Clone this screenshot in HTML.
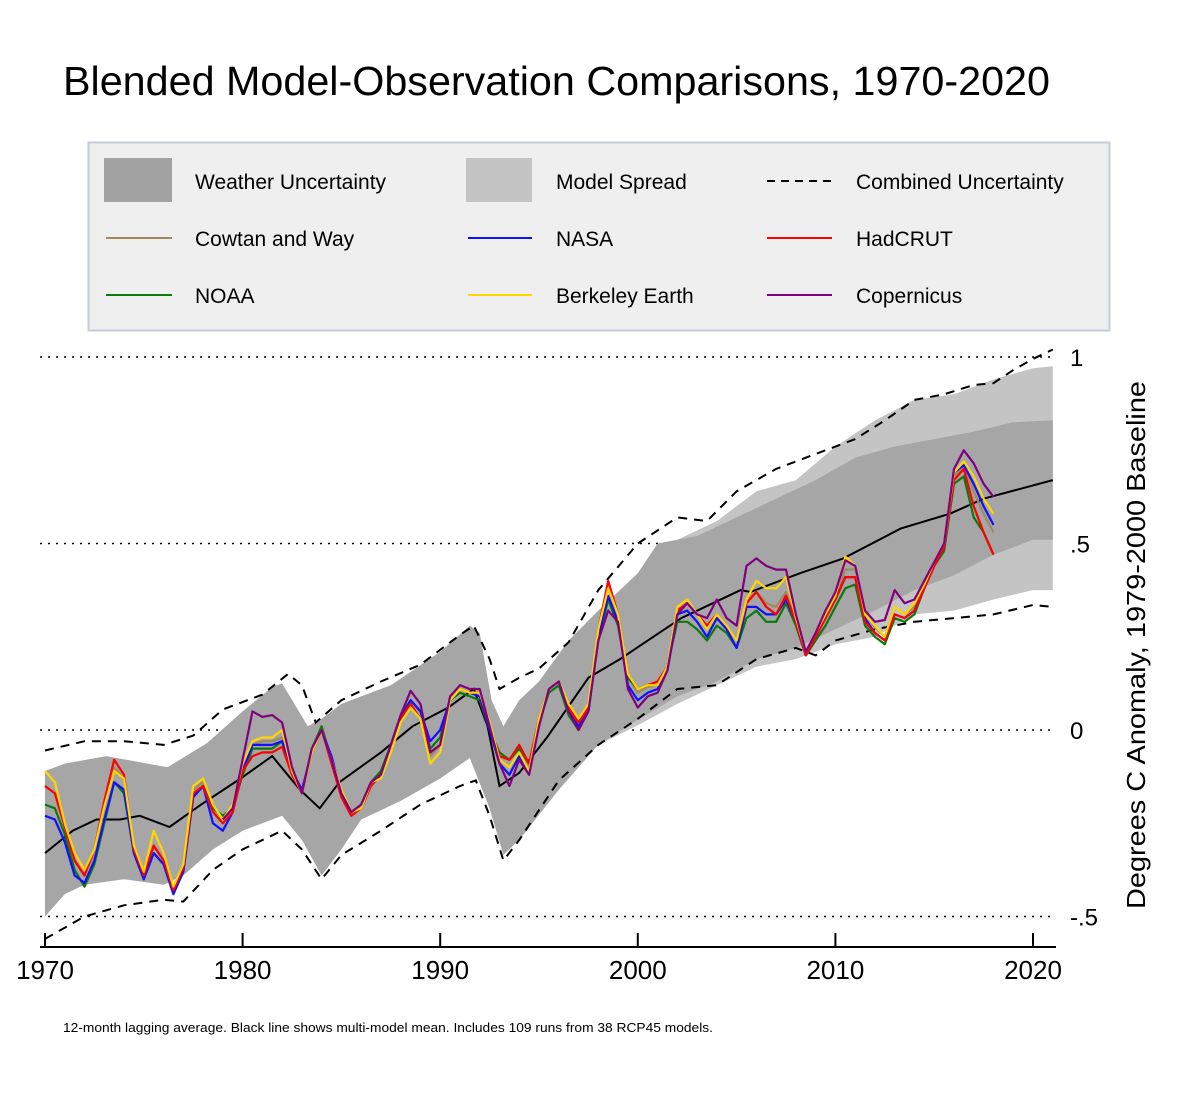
<!DOCTYPE html>
<html><head><meta charset="utf-8">
<style>
html,body{margin:0;padding:0;background:#fff;}
body{width:1200px;height:1100px;overflow:hidden;font-family:"Liberation Sans",Arial,sans-serif;}
svg text{font-family:"Liberation Sans",Arial,sans-serif;}
</style></head>
<body>
<svg id="chart" width="1200" height="1100" viewBox="0 0 1200 1100" xmlns="http://www.w3.org/2000/svg">
<rect x="0" y="0" width="1200" height="1100" fill="#fff"/>
<text x="63" y="95" font-size="41" textLength="987" lengthAdjust="spacingAndGlyphs" fill="#000">Blended Model-Observation Comparisons, 1970-2020</text>
<g>
<rect x="88.5" y="142.5" width="1021" height="188" fill="#efefef" stroke="#c5cdd8" stroke-width="2"/>
<rect x="104" y="158" width="68" height="44" fill="#a2a2a2"/>
<text x="195" y="189" font-size="21">Weather Uncertainty</text>
<rect x="466" y="158" width="66" height="44" fill="#c4c4c4"/>
<text x="556" y="189" font-size="21">Model Spread</text>
<line x1="767" y1="181" x2="832" y2="181" stroke="#000" stroke-width="2" stroke-dasharray="8,6"/>
<text x="856" y="189" font-size="21">Combined Uncertainty</text>
<line x1="106" y1="238" x2="172" y2="238" stroke="#a08a60" stroke-width="2"/>
<text x="195" y="246" font-size="21">Cowtan and Way</text>
<line x1="468" y1="238" x2="532" y2="238" stroke="#1010ff" stroke-width="2"/>
<text x="556" y="246" font-size="21">NASA</text>
<line x1="767" y1="238" x2="832" y2="238" stroke="#ff0000" stroke-width="2"/>
<text x="856" y="246" font-size="21">HadCRUT</text>
<line x1="106" y1="295" x2="172" y2="295" stroke="#0a7a0a" stroke-width="2"/>
<text x="195" y="303" font-size="21">NOAA</text>
<line x1="468" y1="295" x2="532" y2="295" stroke="#ffd700" stroke-width="2"/>
<text x="556" y="303" font-size="21">Berkeley Earth</text>
<line x1="767" y1="295" x2="832" y2="295" stroke="#800080" stroke-width="2"/>
<text x="856" y="303" font-size="21">Copernicus</text>
</g>
<g id="plot"></g>
<text transform="translate(1145,645) rotate(-90)" text-anchor="middle" font-size="26" textLength="528" lengthAdjust="spacingAndGlyphs">Degrees C Anomaly, 1979-2000 Baseline</text>
<text x="63" y="1032" font-size="13" textLength="650" lengthAdjust="spacingAndGlyphs">12-month lagging average. Black line shows multi-model mean. Includes 109 runs from 38 RCP45 models.</text>
</svg>
<script>
const xTicks=[1970,1980,1990,2000,2010,2020];
const yTicks=[1,0.5,0,-0.5];
const yTickLabels=["1",".5","0","-.5"];

const meanYears=[1970,1971.4,1972.6,1973.8,1974.8,1976.3,1977.9,1979.9,1981.5,1982.9,1983.9,1984.9,1987,1988.6,1990.4,1991.7,1992.4,1993,1994,1995.4,1997.5,1999.1,2002.2,2003.8,2005.2,2005.7,2008.2,2010.4,2013.3,2015.8,2017.5,2021];
const meanVals=[-0.33,-0.27,-0.24,-0.24,-0.23,-0.26,-0.2,-0.13,-0.07,-0.16,-0.21,-0.14,-0.06,0.01,0.06,0.11,0.01,-0.15,-0.115,-0.02,0.14,0.19,0.30,0.34,0.375,0.37,0.42,0.46,0.54,0.58,0.62,0.67];

const wxYears=[1970,1971,1973.1,1976.2,1978.2,1980,1981.5,1982,1983.3,1984,1985,1987.5,1990,1991.5,1992,1992.6,1993.2,1994,1995,1996.5,1998,2000,2001,2003,2005,2007,2009,2011,2013,2015,2017,2019,2021];
const wxUpper=[-0.11,-0.09,-0.07,-0.10,-0.035,0.05,0.115,0.125,0.01,0.03,0.07,0.12,0.21,0.28,0.26,0.08,0.01,0.08,0.13,0.24,0.32,0.42,0.50,0.52,0.57,0.62,0.67,0.73,0.76,0.78,0.80,0.825,0.83];
const wxLowYears=[1970,1971,1972,1974,1976,1977,1978.5,1980,1982,1983,1984,1985,1986,1988,1990,1991.5,1992.5,1993.2,1994,1996,1998,2000,2002,2004,2006,2008,2010,2012,2014,2016,2018,2020,2021];
const wxLower=[-0.5,-0.44,-0.415,-0.40,-0.415,-0.39,-0.32,-0.27,-0.23,-0.295,-0.39,-0.32,-0.24,-0.19,-0.13,-0.075,-0.21,-0.335,-0.295,-0.16,-0.04,0.027,0.09,0.13,0.19,0.22,0.27,0.32,0.375,0.415,0.47,0.51,0.51];

const msYears=[1998,2000,2002,2004,2006,2008,2010,2012,2014,2016,2018,2020,2021];
const msUpper=[0.32,0.42,0.51,0.56,0.64,0.67,0.76,0.83,0.885,0.90,0.94,0.97,0.975];
const msLower=[-0.04,0.013,0.07,0.12,0.17,0.19,0.23,0.25,0.31,0.32,0.35,0.375,0.375];

const cuUpYears=[1970,1972,1974,1976,1977.5,1979,1981,1982.3,1983,1983.7,1985,1987,1989,1991,1991.7,1992.5,1993,1994,1995,1996.5,1998,2000,2002,2003.5,2005,2007,2009,2011,2012.5,2014,2015.5,2017,2018,2019,2020,2021];
const cuUpper=[-0.055,-0.03,-0.03,-0.04,-0.015,0.055,0.095,0.15,0.12,0.02,0.08,0.13,0.175,0.255,0.28,0.19,0.11,0.14,0.165,0.235,0.375,0.50,0.57,0.56,0.64,0.70,0.74,0.78,0.83,0.885,0.90,0.925,0.93,0.965,0.995,1.02];
const cuLowYears=[1970,1972,1974,1976,1977,1978.5,1980,1982,1983,1984,1985,1987,1989,1991,1991.8,1992.5,1993.2,1994,1996,1998,2000,2002,2004,2006,2008,2009,2010,2012,2014,2016,2018,2020,2021];
const cuLower=[-0.56,-0.5,-0.47,-0.455,-0.46,-0.375,-0.32,-0.27,-0.32,-0.4,-0.335,-0.27,-0.2,-0.15,-0.135,-0.23,-0.35,-0.295,-0.135,-0.04,0.03,0.11,0.12,0.19,0.22,0.2,0.24,0.27,0.29,0.30,0.31,0.335,0.33];

const obsStart=1970, obsStep=0.5;
const cowtan=[-0.15,-0.17,-0.26,-0.35,-0.39,-0.33,-0.21,-0.10,-0.13,-0.32,-0.39,-0.31,-0.35,-0.43,-0.37,-0.16,-0.14,-0.21,-0.24,-0.21,-0.10,-0.04,-0.03,-0.03,-0.02,-0.11,-0.17,-0.06,0.00,-0.08,-0.17,-0.22,-0.20,-0.14,-0.12,-0.05,0.03,0.07,0.03,-0.07,-0.04,0.08,0.11,0.10,0.10,0.01,-0.08,-0.10,-0.06,-0.10,0.03,0.11,0.13,0.06,0.02,0.06,0.26,0.38,0.30,0.14,0.10,0.115,0.12,0.17,0.32,0.34,0.31,0.27,0.31,0.28,0.24,0.35,0.37,0.34,0.33,0.37,0.30,0.205,0.26,0.31,0.36,0.43,0.43,0.31,0.275,0.25,0.33,0.31,0.33,0.39,0.44,0.49,0.68,0.71,0.64,0.58,0.53];
const noaa=[-0.20,-0.21,-0.28,-0.375,-0.42,-0.36,-0.25,-0.14,-0.17,-0.33,-0.40,-0.33,-0.36,-0.44,-0.38,-0.18,-0.15,-0.21,-0.23,-0.21,-0.12,-0.05,-0.05,-0.05,-0.03,-0.11,-0.17,-0.05,0.01,-0.08,-0.17,-0.22,-0.20,-0.14,-0.11,-0.04,0.04,0.08,0.05,-0.05,-0.02,0.08,0.10,0.09,0.08,0.00,-0.06,-0.08,-0.05,-0.09,0.02,0.10,0.12,0.04,0.00,0.05,0.24,0.35,0.28,0.14,0.11,0.12,0.12,0.17,0.29,0.29,0.27,0.24,0.28,0.26,0.22,0.30,0.32,0.29,0.29,0.34,0.28,0.20,0.24,0.28,0.33,0.38,0.39,0.28,0.25,0.23,0.30,0.29,0.31,0.38,0.44,0.48,0.66,0.68,0.57,0.53,0.47];
const nasa=[-0.23,-0.24,-0.30,-0.39,-0.41,-0.35,-0.24,-0.14,-0.16,-0.33,-0.40,-0.33,-0.36,-0.44,-0.38,-0.18,-0.15,-0.25,-0.27,-0.22,-0.11,-0.04,-0.04,-0.04,-0.03,-0.11,-0.16,-0.06,0.00,-0.07,-0.17,-0.22,-0.21,-0.14,-0.12,-0.05,0.03,0.08,0.05,-0.03,0.00,0.08,0.11,0.10,0.09,0.00,-0.09,-0.12,-0.07,-0.11,0.02,0.11,0.13,0.05,0.01,0.05,0.25,0.36,0.29,0.12,0.08,0.10,0.11,0.16,0.31,0.32,0.29,0.25,0.30,0.27,0.22,0.33,0.33,0.31,0.31,0.35,0.29,0.20,0.25,0.30,0.35,0.41,0.41,0.30,0.26,0.24,0.31,0.30,0.32,0.38,0.44,0.49,0.69,0.71,0.66,0.60,0.55];
const hadcrut=[-0.15,-0.17,-0.26,-0.35,-0.39,-0.32,-0.19,-0.08,-0.12,-0.32,-0.39,-0.31,-0.35,-0.43,-0.37,-0.17,-0.15,-0.22,-0.25,-0.22,-0.11,-0.07,-0.06,-0.06,-0.045,-0.12,-0.17,-0.06,0.00,-0.09,-0.18,-0.23,-0.21,-0.15,-0.12,-0.05,0.03,0.07,0.03,-0.06,-0.04,0.08,0.11,0.10,0.10,0.01,-0.07,-0.08,-0.04,-0.09,0.03,0.11,0.13,0.06,0.02,0.06,0.27,0.40,0.31,0.15,0.11,0.12,0.13,0.17,0.32,0.34,0.31,0.28,0.31,0.28,0.24,0.34,0.37,0.33,0.31,0.36,0.29,0.20,0.25,0.30,0.35,0.41,0.41,0.29,0.26,0.24,0.31,0.30,0.32,0.38,0.44,0.49,0.67,0.70,0.60,0.53,0.47];
const berkeley=[-0.11,-0.14,-0.25,-0.33,-0.375,-0.32,-0.205,-0.11,-0.13,-0.31,-0.38,-0.27,-0.33,-0.42,-0.36,-0.15,-0.13,-0.20,-0.24,-0.20,-0.09,-0.03,-0.02,-0.02,0.00,-0.11,-0.17,-0.06,0.00,-0.08,-0.16,-0.22,-0.21,-0.14,-0.13,-0.06,0.02,0.06,0.03,-0.09,-0.06,0.08,0.11,0.10,0.10,0.02,-0.08,-0.10,-0.06,-0.11,0.03,0.11,0.13,0.07,0.03,0.07,0.27,0.38,0.31,0.15,0.11,0.12,0.12,0.17,0.33,0.35,0.31,0.27,0.31,0.28,0.24,0.35,0.40,0.38,0.38,0.41,0.30,0.21,0.26,0.31,0.36,0.465,0.44,0.31,0.28,0.25,0.33,0.31,0.34,0.39,0.45,0.50,0.69,0.72,0.68,0.62,0.58];
const copStart=1979;
const copernicus=[-0.24,-0.21,-0.08,0.05,0.035,0.04,0.02,-0.10,-0.17,-0.05,0.00,-0.08,-0.17,-0.22,-0.20,-0.14,-0.12,-0.04,0.04,0.105,0.07,-0.06,-0.04,0.09,0.12,0.11,0.11,0.01,-0.09,-0.15,-0.08,-0.12,0.01,0.11,0.13,0.05,0.00,0.05,0.24,0.32,0.29,0.11,0.06,0.09,0.10,0.16,0.31,0.34,0.31,0.30,0.35,0.30,0.28,0.44,0.46,0.44,0.43,0.43,0.31,0.21,0.26,0.32,0.37,0.455,0.44,0.32,0.29,0.295,0.375,0.34,0.35,0.40,0.45,0.50,0.70,0.75,0.715,0.66,0.625];

const X=y=>45+(y-1970)*19.76;
const Y=v=>730-v*373;
const NS='http://www.w3.org/2000/svg';
const plot=document.getElementById('plot');
function mk(tag,attrs){const e=document.createElementNS(NS,tag);for(const k in attrs)e.setAttribute(k,attrs[k]);plot.appendChild(e);return e;}
function pts(xs,vs){return xs.map((x,i)=>X(x).toFixed(1)+','+Y(vs[i]).toFixed(1));}
function bandPath(ux,uv,lx,lv){const u=pts(ux,uv),l=pts(lx,lv).reverse();return 'M'+u.join(' L')+' L'+l.join(' L')+' Z';}

yTicks.forEach((t,i)=>{
  const g=mk('line',{x1:40,x2:1050,y1:Y(t),y2:Y(t),stroke:'#000','stroke-width':1.5,'stroke-dasharray':'2,6'});
  
  
  const tx=mk('text',{x:1070,y:Y(t)+9,'font-size':24});
  tx.textContent=yTickLabels[i];
  
  
});
const ms=mk('path',{d:bandPath(msYears,msUpper,msYears,msLower),fill:'#c4c4c4'});


const wx=mk('path',{d:bandPath(wxYears,wxUpper,wxLowYears,wxLower),fill:'#a6a6a6'});


const cu1=mk('polyline',{points:pts(cuUpYears,cuUpper).join(' '),fill:'none',stroke:'#000','stroke-width':2,'stroke-dasharray':'9,7'});


const cu2=mk('polyline',{points:pts(cuLowYears,cuLower).join(' '),fill:'none',stroke:'#000','stroke-width':2,'stroke-dasharray':'9,7'});


const mm=mk('polyline',{points:pts(meanYears,meanVals).join(' '),fill:'none',stroke:'#000','stroke-width':2});


function obsLine(vals,start,color,name){
  const xs=vals.map((v,i)=>start+i*obsStep);
  const l=mk('polyline',{points:pts(xs,vals).join(' '),fill:'none',stroke:color,'stroke-width':2.2,'stroke-linejoin':'round'});
  
  
}
obsLine(cowtan,obsStart,'#a08a60','cowtan-way-line');
obsLine(noaa,obsStart,'#0a7a0a','noaa-line');
obsLine(nasa,obsStart,'#1010ff','nasa-line');
obsLine(hadcrut,obsStart,'#ff0000','hadcrut-line');
obsLine(berkeley,obsStart,'#ffd700','berkeley-earth-line');
obsLine(copernicus,copStart,'#800080','copernicus-line');
const ax=mk('line',{x1:40,x2:1056,y1:947,y2:947,stroke:'#000','stroke-width':2});


xTicks.forEach(t=>{
  const tk=mk('line',{x1:X(t),x2:X(t),y1:933,y2:947,stroke:'#000','stroke-width':2});
  
  
  const tl=mk('text',{x:X(t),y:979,'font-size':26,'text-anchor':'middle'});
  tl.textContent=String(t);
  
  
});
</script>
</body></html>
